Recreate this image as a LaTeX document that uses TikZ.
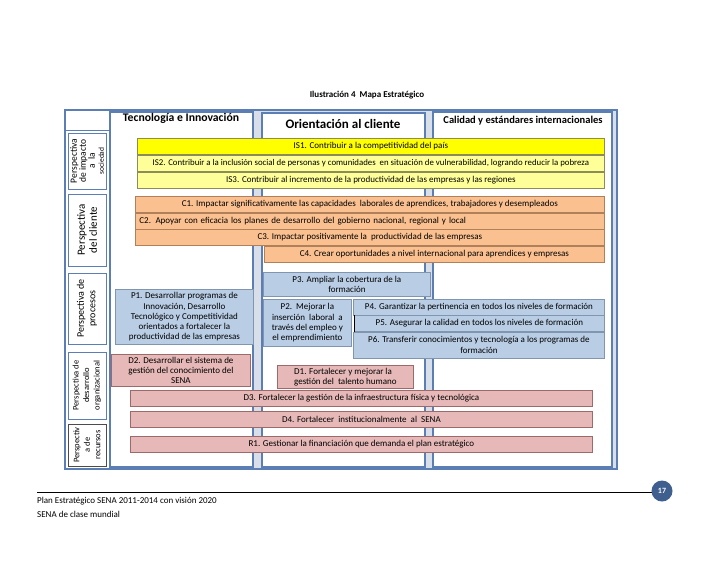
\documentclass[tikz,border=0pt]{standalone}
\usepackage{fontspec}
\setmainfont{Carlito}
\definecolor{colline}{HTML}{5B7FB5}
\definecolor{gapfill}{HTML}{D9DFE8}
\definecolor{yel}{HTML}{FFFF00}
\definecolor{lyel}{HTML}{FFFF99}
\definecolor{yelline}{HTML}{8C8C5A}
\definecolor{ora}{HTML}{FAC090}
\definecolor{oraline}{HTML}{B0805A}
\definecolor{blu}{HTML}{B9CDE5}
\definecolor{bluline}{HTML}{7F95B0}
\definecolor{pnk}{HTML}{E6B9B8}
\definecolor{pnkline}{HTML}{9C6A6A}
\definecolor{pagenum}{HTML}{3F5F8F}
\tikzset{
  box/.style={draw, line width=0.8pt, anchor=north west, inner sep=2pt, font=\fontsize{9}{10.3}\selectfont, align=center},
  isbox/.style={box, fill=lyel, draw=yelline},
  cbox/.style={box, fill=ora, draw=oraline},
  pbox/.style={box, fill=blu, draw=bluline},
  dbox/.style={box, fill=pnk, draw=pnkline},
  colbox/.style={draw=colline, line width=2.4pt, fill=white},
  persp/.style={draw=colline, line width=1pt, fill=white, rotate=90, align=center, inner sep=1pt},
  header/.style={font=\bfseries\fontsize{12}{14}\selectfont}
}
\begin{document}
\begin{tikzpicture}[x=1pt,y=-1pt]
\useasboundingbox (0,0) rectangle (728,563);
% title
\node[font=\bfseries\fontsize{9}{10}\selectfont] (title) at (367,95) {Ilustración 4\ \ Mapa Estratégico};
% frame
\draw[colline, line width=2pt, fill=gapfill] (65,110) rectangle (617,469);
\fill[white] (66,111) rectangle (109,468);
\draw[colline, line width=1.5pt] (65,110) rectangle (617,469);
\draw[colline, line width=1pt] (65,130) -- (109,130);
% columns
\draw[colbox] (110,112) rectangle (253,467);
\draw[colbox] (262,113) rectangle (425,467);
\draw[colbox] (433,112) rectangle (612,467);
\node[font=\bfseries\fontsize{11.7}{14}\selectfont] (h1) at (181,118) {Tecnología e Innovación};
\node[font=\bfseries\fontsize{13}{15}\selectfont] (h2) at (343,124) {Orientación al cliente};
\node[font=\bfseries\fontsize{10.5}{12}\selectfont] (h3) at (523,121) {Calidad y estándares internacionales};
% perspective labels
\node[persp, minimum width=56, minimum height=38, font=\fontsize{9.5}{9}\selectfont] (lp1) at (87,161) {Perspectiva\\de impacto\\a\ \ la\\{\fontsize{7.5}{9}\selectfont sociedad}};
\node[persp, minimum width=72, minimum height=38, font=\fontsize{11}{12}\selectfont] (lp2) at (87,230) {Perspectiva\\del cliente};
\node[persp, minimum width=71, minimum height=38, font=\fontsize{10}{11.5}\selectfont] (lp3) at (87,308.5) {Perspectiva de\\procesos};
\node[persp, minimum width=67, minimum height=38, font=\fontsize{8.5}{10.5}\selectfont] (lp4) at (87,385.5) {Perspectiva de\\desarrollo\\organizacional};
\node[persp, draw=black!70, minimum width=42, minimum height=38, font=\fontsize{8.5}{10.5}\selectfont] (lp5) at (87,445) {Perspectiv\\a de\\recursos};
% IS boxes
\node[isbox, fill=yel, minimum width=467, minimum height=16] (is1) at (137,138) {IS1. Contribuir a la competitividad del país};
\node[isbox, minimum width=467, minimum height=16, font=\fontsize{8.8}{10}\selectfont] (is2) at (137,155) {IS2. Contribuir a la inclusión social de personas y comunidades\ \ en situación de vulnerabilidad, logrando reducir la pobreza};
\node[isbox, minimum width=467, minimum height=16] (is3) at (137,172) {IS3. Contribuir al incremento de la productividad de las empresas y las regiones};
% C boxes
\node[cbox, minimum width=469, minimum height=16] (c1) at (135,196) {C1. Impactar significativamente las capacidades\ \ laborales de aprendices, trabajadores y desempleados};
\node[cbox, minimum width=469, minimum height=16, text width=461, align=left] (c2) at (135,212.5) {C2. Apoyar con eficacia los planes de desarrollo del gobierno nacional, regional y local};
\node[cbox, minimum width=469, minimum height=16] (c3) at (135,229) {C3. Impactar positivamente la\ \ productividad de las empresas};
\node[cbox, minimum width=340, minimum height=16] (c4) at (264,246) {C4. Crear oportunidades a nivel internacional para aprendices y empresas};
% P boxes
\node[pbox, minimum width=167, minimum height=24] (p3) at (263,272) {P3. Ampliar la cobertura de la\\formación};
\node[pbox, minimum width=138, minimum height=55] (p1) at (115,289) {P1. Desarrollar programas de\\Innovación, Desarrollo\\Tecnológico y Competitividad\\orientados a fortalecer la\\productividad de las empresas};
\node[pbox, minimum width=88, minimum height=47] (p2) at (263,299) {P2.\ \ Mejorar la\\inserción\ \ laboral\ \ a\\través del empleo y\\el emprendimiento};
\node[pbox, minimum width=251, minimum height=16] (p4) at (353,298.5) {P4. Garantizar la pertinencia en todos los niveles de formación};
\node[pbox, minimum width=250, minimum height=16] (p5) at (354,315) {P5. Asegurar la calidad en todos los niveles de formación};
\draw[black, line width=1pt] (p5.north west) -- (p5.south west);
\node[pbox, minimum width=251, minimum height=26] (p6) at (353,331.5) {P6. Transferir conocimientos y tecnología a los programas de\\formación};
% D boxes
\node[dbox, minimum width=139, minimum height=32] (d2) at (111,354) {D2. Desarrollar el sistema de\\gestión del conocimiento del\\SENA};
\node[dbox, minimum width=136, minimum height=23, align=left] (d1) at (277,365) {D1. Fortalecer y mejorar la\\gestión del\ \ talento humano};
\node[dbox, minimum width=462, minimum height=16] (d3) at (130,390) {D3. Fortalecer la gestión de la infraestructura física y tecnológica};
\node[dbox, minimum width=462, minimum height=16] (d4) at (130,411) {D4. Fortalecer\ \ institucionalmente\ \ al\ \ SENA};
\node[dbox, minimum width=462, minimum height=16] (r1) at (130,436) {R1. Gestionar la financiación que demanda el plan estratégico};
% footer
\draw[black, line width=1pt] (37,492) -- (652,492);
\node[circle, fill=pagenum, minimum size=21, inner sep=0pt, text=white, font=\bfseries\fontsize{8}{9}\selectfont] (pg) at (662,491) {17};
\node[anchor=west, font=\fontsize{9}{10}\selectfont, inner sep=0pt] (f1) at (37,501) {Plan Estratégico SENA 2011-2014 con visión 2020};
\node[anchor=west, font=\fontsize{9}{10}\selectfont, inner sep=0pt] (f2) at (37,514) {SENA de clase mundial};
\end{tikzpicture}
\end{document}
